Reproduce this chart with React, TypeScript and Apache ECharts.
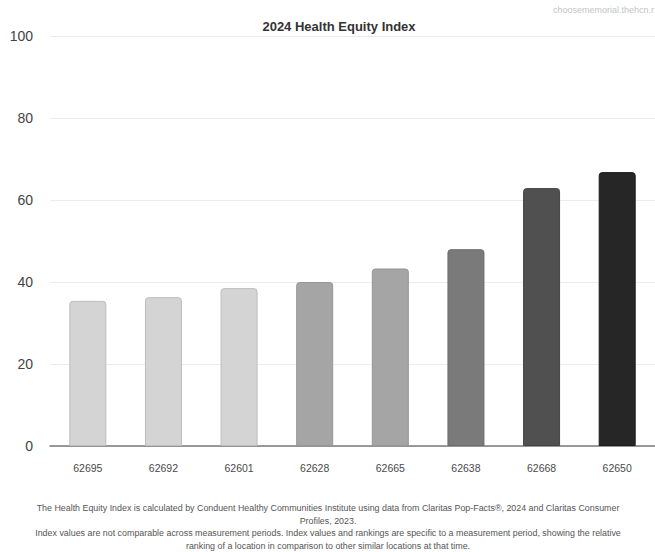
import React, { useEffect, useRef } from "react";
import * as echarts from "echarts";

const categories = ["62695", "62692", "62601", "62628", "62665", "62638", "62668", "62650"];
const values = [35.4, 36.3, 38.5, 40.0, 43.3, 48.0, 62.9, 66.8];
const barColors = ["#d4d4d4", "#d4d4d4", "#d4d4d4", "#a5a5a5", "#a5a5a5", "#7a7a7a", "#505050", "#262626"];
const borderColors = ["#bdbdbd", "#bdbdbd", "#bdbdbd", "#959595", "#959595", "#6c6c6c", "#444444", "#1c1c1c"];
const yTicks = [0, 20, 40, 60, 80, 100];
const watermark = "choosememorial.thehcn.r";
const footerLines = [
  "The Health Equity Index is calculated by Conduent Healthy Communities Institute using data from Claritas Pop-Facts®, 2024 and Claritas Consumer",
  "Profiles, 2023.",
  "Index values are not comparable across measurement periods. Index values and rankings are specific to a measurement period, showing the relative",
  "ranking of a location in comparison to other similar locations at that time.",
];

const FONT = "'Liberation Sans', Arial, Helvetica, sans-serif";

export default function App() {
  const ref = useRef<HTMLDivElement>(null);
  useEffect(() => {
    if (!ref.current) return;
    const chart = echarts.init(ref.current, null, { renderer: "svg" });
    const footerY = [508, 521, 533, 546];
    chart.setOption({
      animation: false,
      backgroundColor: "#ffffff",
      textStyle: { fontFamily: FONT },
      title: {
        text: "2024 Health Equity Index",
        left: 334,
        top: 15,
        textAlign: "center",
        textStyle: { fontSize: 13, fontWeight: "bold", color: "#333333", fontFamily: FONT },
      },
      grid: { left: 50, top: 36, width: 608, height: 410, containLabel: false },
      xAxis: {
        type: "category",
        data: categories,
        axisLine: { show: true, lineStyle: { color: "#7a7a7a", width: 1.5 } },
        axisTick: { show: false },
        axisLabel: { color: "#4a4a4a", fontSize: 10.5, margin: 16, fontFamily: FONT },
      },
      yAxis: {
        type: "value",
        min: yTicks[0],
        max: yTicks[yTicks.length - 1],
        interval: 20,
        axisLine: { show: false },
        axisTick: { show: false },
        splitLine: { lineStyle: { color: "#ececec", width: 1 } },
        axisLabel: { color: "#444444", fontSize: 14, margin: 17, fontFamily: FONT },
      },
      series: [
        {
          type: "bar",
          barWidth: 37,
          data: values.map((v, i) => ({
            value: v,
            itemStyle: {
              color: barColors[i],
              borderColor: borderColors[i],
              borderWidth: 1,
              borderRadius: [3, 3, 0, 0],
            },
          })),
        },
      ],
      graphic: [
        {
          type: "text",
          x: 654,
          y: 10,
          style: {
            text: watermark,
            fill: "#c4c4c4",
            fontSize: 9,
            fontFamily: FONT,
            textAlign: "right",
            textVerticalAlign: "middle",
          },
        },
        ...footerLines.map((t, i) => ({
          type: "text",
          x: 328,
          y: footerY[i],
          style: {
            text: t,
            fill: "#555555",
            fontSize: 8.9,
            fontFamily: FONT,
            textAlign: "center",
            textVerticalAlign: "middle",
          },
        })),
      ],
    });
    return () => chart.dispose();
  }, []);
  return <div ref={ref} style={{ position: "fixed", left: 0, top: 0, width: 655, height: 552 }} />;
}
